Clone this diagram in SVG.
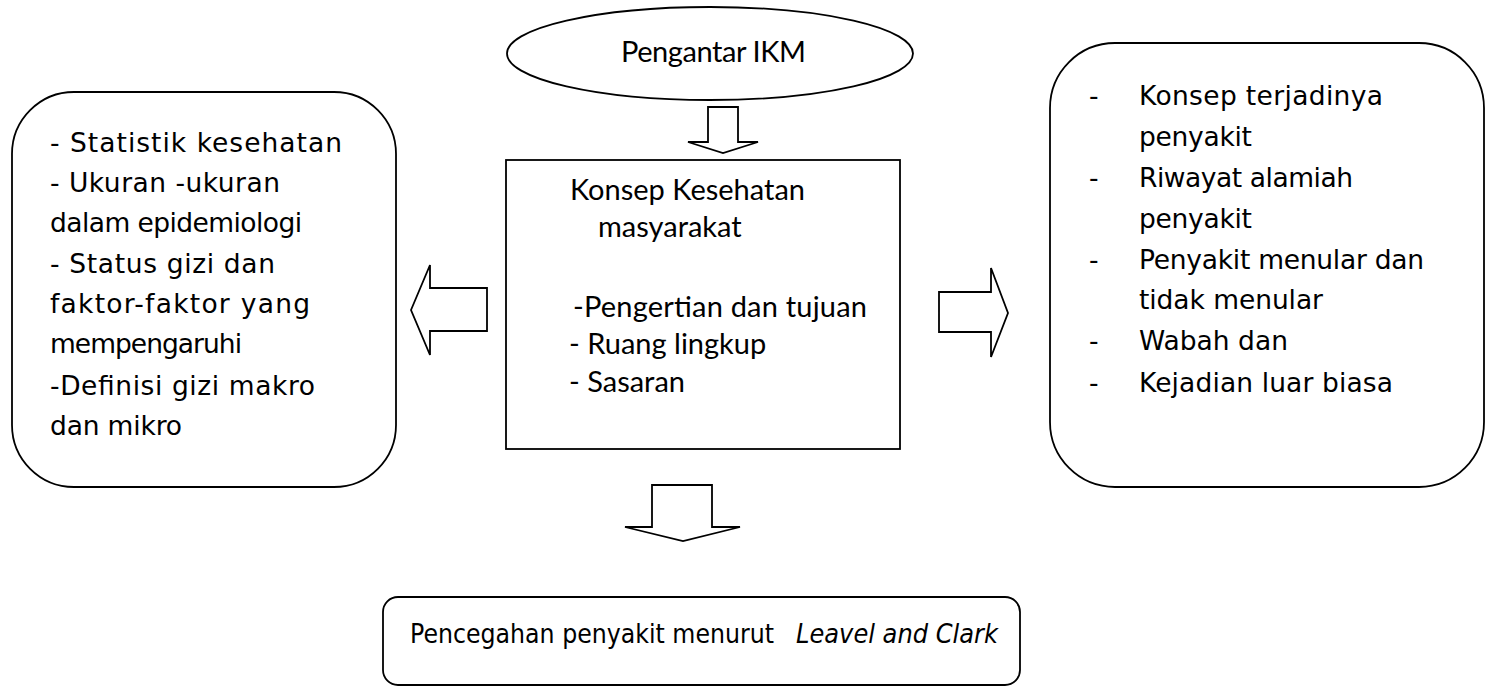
<svg xmlns="http://www.w3.org/2000/svg" width="1487" height="686" viewBox="0 0 1487 686">
<style>
.shape{fill:#fff;stroke:#000;stroke-width:1.8}
.arrow{fill:#fff;stroke:#000;stroke-width:1.8;stroke-linejoin:miter}
.cal{font-family:Lato,"Open Sans",sans-serif;font-size:29px;fill:#000}
.com{font-family:"DejaVu Sans",sans-serif;font-size:26.5px;fill:#000}
</style>
<rect width="1487" height="686" fill="#fff"/>
<g id="node-pengantar">
<ellipse class="shape" cx="710" cy="53.5" rx="203" ry="46.5"/>
<text class="cal" x="621" y="62" font-size="28" textLength="185" lengthAdjust="spacing">Pengantar IKM</text>
</g>
<g id="node-konsep">
<rect class="shape" x="506" y="160" width="394" height="289" stroke-width="2.2"/>
<text class="cal" x="570" y="200" textLength="235" lengthAdjust="spacing">Konsep Kesehatan</text>
<text class="cal" x="598" y="237">masyarakat</text>
<text class="cal" x="573" y="317" textLength="294" lengthAdjust="spacing">-Pengertian dan tujuan</text>
<text class="cal" x="569" y="354">- Ruang lingkup</text>
<text class="cal" x="569" y="392">- Sasaran</text>
</g>
<g id="node-left">
<rect class="shape" x="12" y="92" width="384" height="395" rx="62" ry="62"/>
<text class="com" x="50" y="152" textLength="292" lengthAdjust="spacing">- Statistik kesehatan</text>
<text class="com" x="50" y="192" textLength="230" lengthAdjust="spacing">- Ukuran -ukuran</text>
<text class="com" x="50" y="232" textLength="252" lengthAdjust="spacing">dalam epidemiologi</text>
<text class="com" x="50" y="273" textLength="225" lengthAdjust="spacing">- Status gizi dan</text>
<text class="com" x="50" y="313" textLength="260" lengthAdjust="spacing">faktor-faktor yang</text>
<text class="com" x="50" y="353" textLength="192" lengthAdjust="spacing">mempengaruhi</text>
<text class="com" x="50" y="395" textLength="265" lengthAdjust="spacing">-Definisi gizi makro</text>
<text class="com" x="50" y="435" textLength="132" lengthAdjust="spacing">dan mikro</text>
</g>
<g id="node-right">
<rect class="shape" x="1050" y="43" width="434" height="444" rx="65" ry="65"/>
<text class="com" x="1089" y="105">-</text><text class="com" x="1139" y="105" textLength="244" lengthAdjust="spacing">Konsep terjadinya</text>
<text class="com" x="1139" y="146" textLength="113" lengthAdjust="spacing">penyakit</text>
<text class="com" x="1089" y="187">-</text><text class="com" x="1139" y="187" textLength="214" lengthAdjust="spacing">Riwayat alamiah</text>
<text class="com" x="1139" y="228" textLength="113" lengthAdjust="spacing">penyakit</text>
<text class="com" x="1089" y="269">-</text><text class="com" x="1139" y="269" textLength="285" lengthAdjust="spacing">Penyakit menular dan</text>
<text class="com" x="1139" y="309" textLength="184" lengthAdjust="spacing">tidak menular</text>
<text class="com" x="1089" y="350">-</text><text class="com" x="1139" y="350" textLength="149" lengthAdjust="spacing">Wabah dan</text>
<text class="com" x="1089" y="392">-</text><text class="com" x="1139" y="392" textLength="254" lengthAdjust="spacing">Kejadian luar biasa</text>
</g>
<g id="node-pencegahan">
<rect class="shape" x="383" y="597" width="637" height="88" rx="15" ry="15"/>
<text class="com" x="410" y="643" textLength="364" lengthAdjust="spacingAndGlyphs">Pencegahan penyakit menurut</text>
<text class="com" x="796" y="643" font-style="italic" textLength="202" lengthAdjust="spacingAndGlyphs">Leavel and Clark</text>
</g>
<g id="connectors">
<polygon class="arrow" points="708,107 738,107 738,142 758,142 723,153 688,142 708,142"/>
<polygon class="arrow" points="411,310 430,265 430,288 487,288 487,331 430,331 430,355"/>
<polygon class="arrow" points="939,292 991,292 991,268 1008,313 991,357 991,332 939,332"/>
<polygon class="arrow" points="652,485 712,485 712,527 740,527 683,541 625,527 652,527"/>
</g>
</svg>
